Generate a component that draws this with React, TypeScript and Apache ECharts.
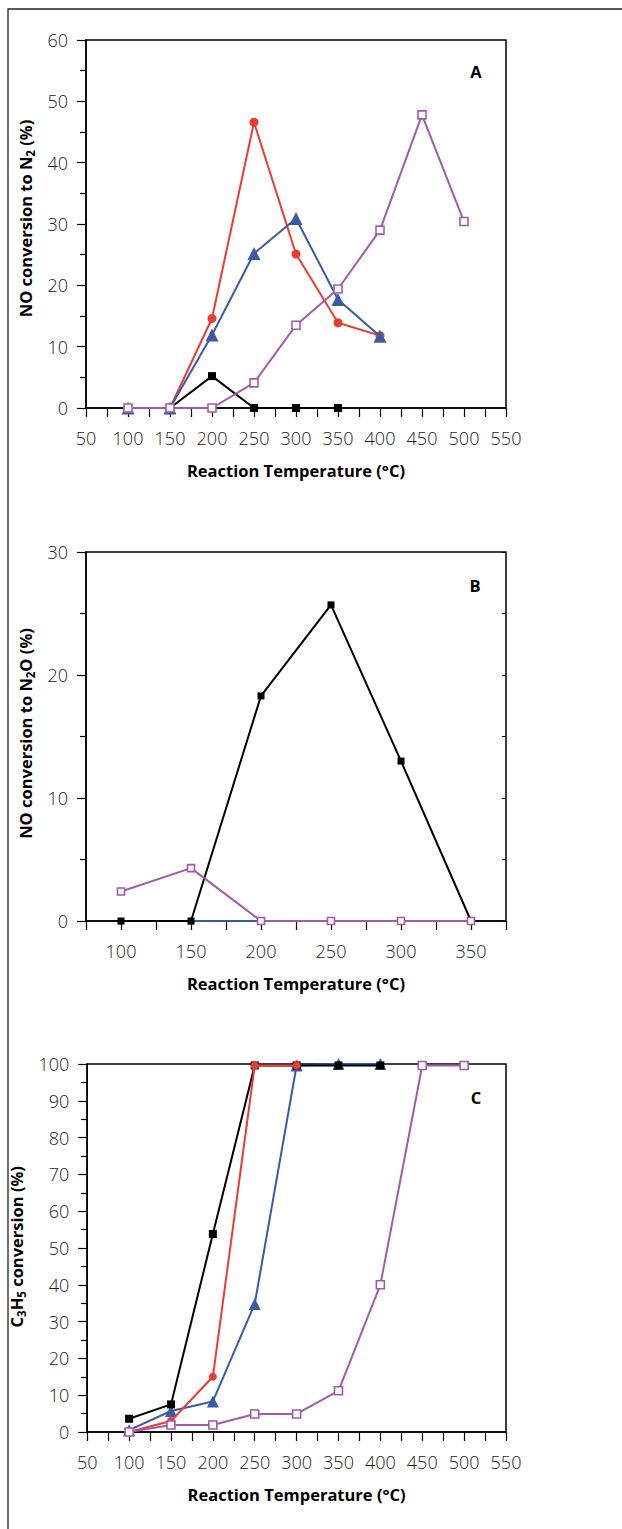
import React, { useEffect, useRef } from "react";
import * as echarts from "echarts";

// ---------- data ----------
const tempsAC = [100, 150, 200, 250, 300, 350, 400, 450, 500];
const tempsB = [100, 150, 200, 250, 300, 350];

// Panel A: NO conversion to N2 (%)
const aBlack = [null, 0, 5.2, 0, 0, 0, null, null, null];
const aRed = [null, 0, 14.6, 46.6, 25.1, 13.9, 11.8, null, null];
const aBlue = [0, 0, 11.9, 25.2, 30.9, 17.7, 11.7, null, null];
const aPurple = [0, 0, 0, 4.1, 13.5, 19.4, 29.0, 47.8, 30.4];

// Panel B: NO conversion to N2O (%)
const bBlack = [0, 0, 18.3, 25.7, 13.0, 0];
const bBlue = [0, 0, 0, 0, 0, 0];
const bPurple = [2.4, 4.3, 0, 0, 0, 0];

// Panel C: C3H5 conversion (%)
const cBlack = [3.6, 7.5, 53.8, 99.6, 99.6, 99.6, 99.6, null, null];
const cRed = [0, 3.0, 15.0, 99.6, 99.6, null, null, null, null];
const cBlue = [0.5, 5.7, 8.3, 34.8, 99.6, 100, 100, null, null];
const cPurple = [0, 1.9, 1.9, 4.9, 4.9, 11.2, 40.0, 99.6, 99.6];

const xTickLabels = [50, 100, 150, 200, 250, 300, 350, 400, 450, 500, 550];

// ---------- styles ----------
const FONT = "'Open Sans', 'Noto Sans', sans-serif";
const RED = "#ec3b30";
const BLUE = "#3a5aa8";
const PURPLE = "#a35aa9";
const BLACK = "#000000";

const GRID_LEFT = 86;
const GRID_W = 420;
const NAME_SIZE = 16.5;
const TICK_SIZE = 18;
const TICK_COLOR = "#1a1a1a";

function pts(temps: number[], vals: (number | null)[]) {
  const out: number[][] = [];
  temps.forEach((t, i) => {
    const v = vals[i];
    if (v !== null && v !== undefined) out.push([t, v]);
  });
  return out;
}

function series(
  idx: number,
  temps: number[],
  vals: (number | null)[],
  color: string,
  symbol: string,
  size: number,
  hollow = false,
  z = 2
) {
  return {
    type: "line",
    xAxisIndex: idx,
    yAxisIndex: idx,
    data: pts(temps, vals),
    symbol,
    symbolSize: size,
    showSymbol: true,
    z,
    lineStyle: { color, width: 2 },
    itemStyle: hollow
      ? { color: "#ffffff", borderColor: color, borderWidth: 1.6 }
      : { color, borderWidth: 0 },
    emphasis: { disabled: true },
    silent: true,
  };
}

function nameRich() {
  return {
    b: { fontFamily: FONT, fontSize: NAME_SIZE, fontWeight: "bold", color: "#000", lineHeight: 22 },
    s: { fontFamily: FONT, fontSize: 11.5, fontWeight: "bold", color: "#000", lineHeight: 12, verticalAlign: "bottom" },
  };
}

function xAxis(idx: number, min: number, max: number) {
  return {
    gridIndex: idx,
    type: "value",
    min,
    max,
    interval: 25,
    name: "Reaction Temperature (°C)",
    nameLocation: "middle",
    nameGap: 54,
    nameTextStyle: { fontFamily: FONT, fontSize: NAME_SIZE, fontWeight: "bold", color: "#000" },
    axisLine: { show: true, onZero: false, lineStyle: { color: "#000", width: 1.5 } },
    axisTick: { show: true, length: 9, lineStyle: { color: "#000", width: 1.2 } },
    axisLabel: {
      show: true,
      margin: 21,
      fontFamily: FONT,
      fontSize: TICK_SIZE,
      fontWeight: 300,
      color: TICK_COLOR,
      showMinLabel: true,
      showMaxLabel: true,
      formatter: (v: number) => (xTickLabels.includes(v) ? String(v) : ""),
    },
    splitLine: { show: false },
  };
}

function yAxis(idx: number, max: number, name: string, shiftUp: number) {
  return {
    gridIndex: idx,
    type: "value",
    min: 0,
    max,
    interval: 10,
    name,
    nameLocation: "middle",
    nameGap: 41,
    nameRotate: 90,
    nameTextStyle: { rich: nameRich(), padding: [0, 0, 0, shiftUp] },
    axisLine: { show: true, onZero: false, lineStyle: { color: "#000", width: 1.5 } },
    axisTick: { show: true, length: 9, lineStyle: { color: "#000", width: 1.2 } },
    minorTick: { show: true, splitNumber: 2, length: 6, lineStyle: { color: "#000", width: 1.2 } },
    axisLabel: { show: true, margin: 18, fontFamily: FONT, fontSize: TICK_SIZE, fontWeight: 300, color: TICK_COLOR },
    splitLine: { show: false },
    minorSplitLine: { show: false },
  };
}

function panelLetter(text: string, x: number, y: number) {
  return {
    type: "text",
    x,
    y,
    style: { text, fontFamily: FONT, fontSize: NAME_SIZE, fontWeight: "bold", fill: "#000", align: "center", verticalAlign: "middle" },
  };
}

export default function App() {
  const ref = useRef<HTMLDivElement>(null);

  useEffect(() => {
    document.body.style.margin = "0";
    if (!ref.current) return;
    const chart = echarts.init(ref.current, null, { renderer: "svg" });

    const gridBase = {
      left: GRID_LEFT,
      width: GRID_W,
      show: true,
      borderColor: "#000",
      borderWidth: 1.5,
      backgroundColor: "transparent",
      containLabel: false,
    };

    chart.setOption({
      animation: false,
      backgroundColor: "#ffffff",
      grid: [
        { ...gridBase, top: 40, height: 368 },
        { ...gridBase, top: 552, height: 369 },
        { ...gridBase, top: 1064, height: 368 },
      ],
      xAxis: [xAxis(0, 50, 550), xAxis(1, 75, 375), xAxis(2, 50, 550)],
      yAxis: [
        yAxis(0, 60, "{b|NO conversion to N}{s|2}{b| (%)}", 11),
        yAxis(1, 30, "{b|NO conversion to N}{s|2}{b|O (%)}", 6),
        yAxis(2, 100, "{b|C}{s|3}{b|H}{s|5}{b| conversion (%)}", 2.5),
        {
          gridIndex: 1,
          type: "value",
          position: "right",
          min: 0,
          max: 30,
          interval: 5,
          axisLine: { show: false },
          axisTick: { show: true, inside: true, length: 4, lineStyle: { color: "#000", width: 1 } },
          axisLabel: { show: false },
          splitLine: { show: false },
        },
      ],
      series: [
        // Panel A
        series(0, tempsAC, aBlack, BLACK, "rect", 8, false, 2),
        series(0, tempsAC, aRed, RED, "circle", 9, false, 3),
        series(0, tempsAC, aBlue, BLUE, "triangle", 13, false, 4),
        series(0, tempsAC, aPurple, PURPLE, "rect", 8, true, 5),
        // Panel B
        series(1, tempsB, bBlue, BLUE, "triangle", 7, false, 2),
        series(1, tempsB, bBlack, BLACK, "rect", 7, false, 3),
        series(1, tempsB, bPurple, PURPLE, "rect", 7, true, 4),
        // Panel C
        series(2, tempsAC, cBlue, BLUE, "triangle", 12, false, 2),
        series(2, tempsAC, cBlack, BLACK, "rect", 8, false, 3),
        series(2, tempsAC, cRed, RED, "circle", 8, false, 4),
        series(2, tempsAC, cPurple, PURPLE, "rect", 8, true, 5),
      ],
      graphic: [
        {
          type: "rect",
          silent: true,
          shape: { x: 8, y: 9, width: 1000, height: 2000 },
          style: { fill: "none", stroke: "#222", lineWidth: 1.3 },
        },
        panelLetter("A", 476, 71),
        panelLetter("B", 475, 585),
        panelLetter("C", 476, 1097),
      ],
    });

    return () => {
      chart.dispose();
    };
  }, []);

  return <div ref={ref} style={{ width: 622, height: 1529 }} />;
}
